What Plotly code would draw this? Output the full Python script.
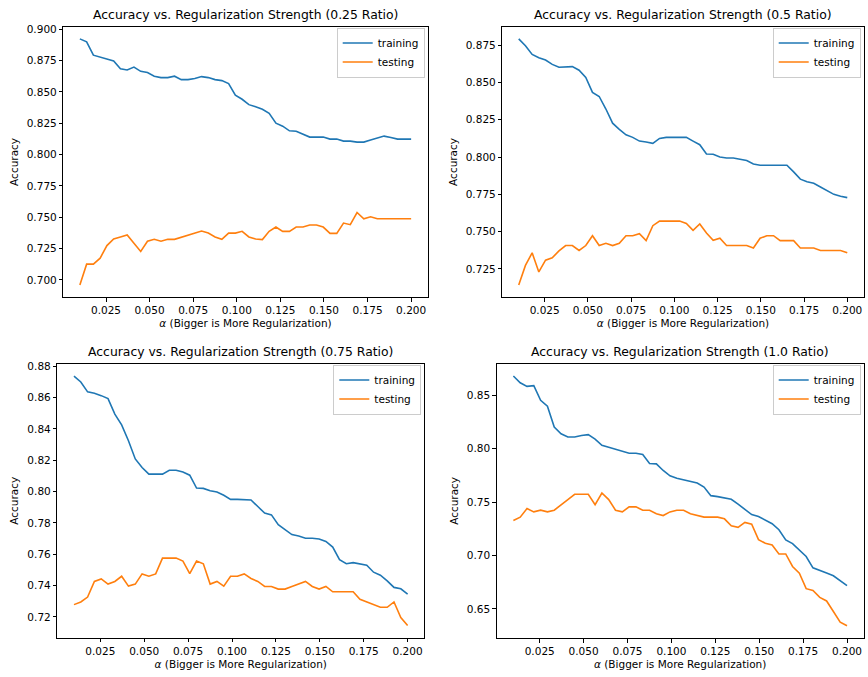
import plotly.graph_objects as go

# alpha grid (50 values from 0.01 to 0.20)
alpha = [0.01000, 0.01388, 0.01776, 0.02163, 0.02551, 0.02939, 0.03327, 0.03714, 0.04102, 0.04490,
         0.04878, 0.05265, 0.05653, 0.06041, 0.06429, 0.06816, 0.07204, 0.07592, 0.07980, 0.08367,
         0.08755, 0.09143, 0.09531, 0.09918, 0.10306, 0.10694, 0.11082, 0.11469, 0.11857, 0.12245,
         0.12633, 0.13020, 0.13408, 0.13796, 0.14184, 0.14571, 0.14959, 0.15347, 0.15735, 0.16122,
         0.16510, 0.16898, 0.17286, 0.17673, 0.18061, 0.18449, 0.18837, 0.19224, 0.19612, 0.20000]

ratios = ["0.25", "0.5", "0.75", "1.0"]

train_025 = [0.8924, 0.8900, 0.8794, 0.8779, 0.8763, 0.8747, 0.8686, 0.8676, 0.8699, 0.8665,
             0.8655, 0.8626, 0.8615, 0.8615, 0.8626, 0.8599, 0.8599, 0.8607, 0.8623, 0.8615,
             0.8599, 0.8591, 0.8567, 0.8475, 0.8442, 0.8399, 0.8383, 0.8362, 0.8330, 0.8251,
             0.8227, 0.8190, 0.8187, 0.8164, 0.8140, 0.8140, 0.8140, 0.8124, 0.8124, 0.8108,
             0.8108, 0.8100, 0.8100, 0.8116, 0.8132, 0.8148, 0.8137, 0.8124, 0.8124, 0.8124]
test_025 = [0.6960, 0.7126, 0.7126, 0.7174, 0.7274, 0.7327, 0.7343, 0.7359, 0.7293, 0.7227,
            0.7309, 0.7324, 0.7309, 0.7324, 0.7324, 0.7340, 0.7356, 0.7372, 0.7390, 0.7374,
            0.7343, 0.7324, 0.7374, 0.7374, 0.7388, 0.7343, 0.7327, 0.7322, 0.7388, 0.7422,
            0.7388, 0.7388, 0.7422, 0.7422, 0.7438, 0.7438, 0.7422, 0.7372, 0.7372, 0.7454,
            0.7441, 0.7538, 0.7488, 0.7504, 0.7488, 0.7488, 0.7488, 0.7488, 0.7488, 0.7488]

train_05 = [0.8792, 0.8746, 0.8688, 0.8666, 0.8650, 0.8621, 0.8602, 0.8606, 0.8606, 0.8582,
            0.8533, 0.8433, 0.8406, 0.8322, 0.8227, 0.8185, 0.8149, 0.8132, 0.8107, 0.8101,
            0.8092, 0.8125, 0.8132, 0.8132, 0.8132, 0.8132, 0.8107, 0.8083, 0.8021, 0.8019,
            0.8001, 0.7994, 0.7994, 0.7985, 0.7977, 0.7954, 0.7945, 0.7945, 0.7945, 0.7945,
            0.7945, 0.7901, 0.7852, 0.7835, 0.7824, 0.7799, 0.7775, 0.7750, 0.7737, 0.7728]
test_05 = [0.7143, 0.7274, 0.7358, 0.7230, 0.7309, 0.7325, 0.7371, 0.7407, 0.7407, 0.7374,
           0.7407, 0.7473, 0.7407, 0.7422, 0.7407, 0.7422, 0.7473, 0.7473, 0.7487, 0.7440,
           0.7540, 0.7571, 0.7571, 0.7571, 0.7571, 0.7555, 0.7509, 0.7552, 0.7491, 0.7442,
           0.7456, 0.7407, 0.7407, 0.7407, 0.7407, 0.7391, 0.7456, 0.7473, 0.7473, 0.7440,
           0.7440, 0.7440, 0.7391, 0.7391, 0.7391, 0.7374, 0.7374, 0.7374, 0.7374, 0.7358]

train_075 = [0.8737, 0.8699, 0.8636, 0.8627, 0.8612, 0.8593, 0.8494, 0.8425, 0.8324, 0.8208,
             0.8153, 0.8111, 0.8111, 0.8111, 0.8136, 0.8136, 0.8125, 0.8104, 0.8022, 0.8020,
             0.8005, 0.7997, 0.7976, 0.7950, 0.7950, 0.7946, 0.7946, 0.7904, 0.7862, 0.7851,
             0.7788, 0.7757, 0.7725, 0.7716, 0.7702, 0.7702, 0.7697, 0.7681, 0.7645, 0.7565,
             0.7539, 0.7546, 0.7539, 0.7529, 0.7485, 0.7466, 0.7430, 0.7388, 0.7379, 0.7345]
test_075 = [0.7278, 0.7295, 0.7326, 0.7426, 0.7442, 0.7409, 0.7426, 0.7459, 0.7396, 0.7409,
            0.7474, 0.7459, 0.7474, 0.7575, 0.7575, 0.7575, 0.7556, 0.7476, 0.7556, 0.7539,
            0.7409, 0.7426, 0.7396, 0.7459, 0.7459, 0.7474, 0.7445, 0.7426, 0.7394, 0.7394,
            0.7377, 0.7377, 0.7394, 0.7411, 0.7426, 0.7394, 0.7377, 0.7394, 0.7360, 0.7360,
            0.7360, 0.7360, 0.7312, 0.7295, 0.7278, 0.7261, 0.7261, 0.7295, 0.7196, 0.7145]

train_10 = [0.8680, 0.8617, 0.8583, 0.8590, 0.8453, 0.8397, 0.8202, 0.8140, 0.8109, 0.8109,
            0.8124, 0.8131, 0.8090, 0.8031, 0.8013, 0.7994, 0.7976, 0.7957, 0.7957, 0.7945,
            0.7861, 0.7858, 0.7796, 0.7746, 0.7724, 0.7709, 0.7700, 0.7678, 0.7641, 0.7560,
            0.7551, 0.7542, 0.7526, 0.7480, 0.7430, 0.7383, 0.7365, 0.7328, 0.7297, 0.7241,
            0.7145, 0.7111, 0.7052, 0.6990, 0.6884, 0.6863, 0.6835, 0.6810, 0.6766, 0.6717]
test_10 = [0.7328, 0.7359, 0.7439, 0.7408, 0.7424, 0.7408, 0.7424, 0.7470, 0.7523, 0.7573,
           0.7573, 0.7573, 0.7476, 0.7585, 0.7523, 0.7424, 0.7408, 0.7455, 0.7455, 0.7424,
           0.7424, 0.7390, 0.7374, 0.7408, 0.7424, 0.7424, 0.7390, 0.7374, 0.7359, 0.7359,
           0.7359, 0.7343, 0.7278, 0.7263, 0.7309, 0.7293, 0.7148, 0.7114, 0.7098, 0.7014,
           0.7014, 0.6897, 0.6835, 0.6689, 0.6673, 0.6608, 0.6574, 0.6475, 0.6376, 0.6342]

trains = [train_025, train_05, train_075, train_10]
tests = [test_025, test_05, test_075, test_10]
ydticks = [0.025, 0.025, 0.02, 0.05]
yformats = [".3f", ".3f", ".2f", ".2f"]

W, H = 868, 677
# axes boxes in pixels: left, right, top, bottom
boxes = [(63.3, 427.7, 22.7, 295.0),
         (502.3, 863.7, 22.7, 295.0),
         (57.3, 424.3, 361.7, 637.7),
         (496.7, 863.7, 361.7, 638.0)]

BLUE = "#1f77b4"
ORANGE = "#ff7f0e"
FONT = "DejaVu Sans"
FS = 10.5

fig = go.Figure()
xpad = 0.05 * (alpha[-1] - alpha[0])
xr = [alpha[0] - xpad, alpha[-1] + xpad]

layout = dict(width=W, height=H, margin=dict(l=0, r=0, t=0, b=0),
              paper_bgcolor="white", plot_bgcolor="white",
              font=dict(family=FONT, size=FS, color="black"),
              annotations=[])

for k in range(4):
    sfx = "" if k == 0 else str(k + 1)
    leg = "legend" + sfx
    fig.add_trace(go.Scatter(x=alpha, y=trains[k], mode="lines", name="training",
                             line=dict(color=BLUE, width=1.6),
                             xaxis="x" + sfx, yaxis="y" + sfx, legend=leg))
    fig.add_trace(go.Scatter(x=alpha, y=tests[k], mode="lines", name="testing",
                             line=dict(color=ORANGE, width=1.6),
                             xaxis="x" + sfx, yaxis="y" + sfx, legend=leg))
    l, r, t, b = boxes[k]
    allv = trains[k] + tests[k]
    lo, hi = min(allv), max(allv)
    pad = 0.05 * (hi - lo)
    common = dict(showline=True, linecolor="black", linewidth=0.9, mirror=True,
                  ticks="outside", ticklen=3.5, tickwidth=0.9, tickcolor="black",
                  showgrid=False, zeroline=False,
                  tickfont=dict(family=FONT, size=FS, color="black"))
    layout["xaxis" + sfx] = dict(common, domain=[l / W, r / W], range=xr, autorange=False,
                                 anchor="y" + sfx, tick0=0, dtick=0.025, tickformat=".3f",
                                 title=dict(text="<i>α</i> (Bigger is More Regularization)",
                                            font=dict(family=FONT, size=FS, color="black"),
                                            standoff=4))
    layout["yaxis" + sfx] = dict(common, domain=[1 - b / H, 1 - t / H],
                                 range=[lo - pad, hi + pad], autorange=False,
                                 anchor="x" + sfx, tick0=0, dtick=ydticks[k],
                                 tickformat=yformats[k],
                                 title=dict(text="Accuracy",
                                            font=dict(family=FONT, size=FS, color="black"),
                                            standoff=6))
    layout[leg] = dict(x=(r - 3) / W, y=1 - (t + 1) / H, xanchor="right", yanchor="top",
                       bgcolor="rgba(255,255,255,0.8)", bordercolor="#cccccc", borderwidth=1,
                       font=dict(family=FONT, size=FS, color="black"),
                       tracegroupgap=0, itemwidth=30)
    layout["annotations"].append(dict(
        text="Accuracy vs. Regularization Strength (%s Ratio)" % ratios[k],
        x=(l + r) / 2 / W, y=1 - t / H, xref="paper", yref="paper",
        xanchor="center", yanchor="bottom", yshift=3, showarrow=False,
        font=dict(family=FONT, size=12.4, color="black")))

fig.update_layout(**layout)
fig.write_html("out.html", config={"displayModeBar": False},
               post_script="document.body.style.margin='0';document.body.style.overflow='hidden';")
